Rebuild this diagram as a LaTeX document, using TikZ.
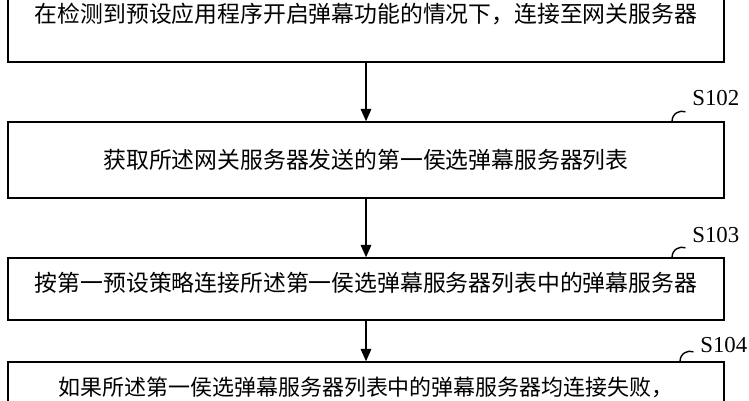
\documentclass[tikz,border=0pt]{standalone}
\usepackage{fontspec}
\setmainfont{Liberation Serif}
\newfontfamily\cjk{Noto Sans CJK SC}
\usetikzlibrary{arrows.meta}

\tikzset{
  stepbox/.style={draw, line width=0.9pt, minimum width=14.32cm, inner sep=0pt},
  flow/.style={-{Triangle[length=7pt,width=6pt]}, line width=0.8pt},
  hook/.style={line width=0.8pt},
  steplabel/.style={font=\fontsize{13pt}{15pt}\selectfont, inner sep=0pt, anchor=west}
}

\begin{document}
\begin{tikzpicture}[x=0.02cm, y=-0.02cm]
\useasboundingbox (0,0) rectangle (749,400);
\clip (0,0) rectangle (749,400);
\node[stepbox, minimum height=1.44cm] (s101) at (366,26) {};
\node[stepbox, minimum height=1.52cm] (s102) at (366,160) {};
\node[stepbox, minimum height=1.24cm] (s103) at (366,289) {};
\node[stepbox, minimum height=1.6cm] (s104) at (366,402) {};
% texts
\node[font=\cjk\fontsize{13pt}{16pt}\selectfont] at (366,14) {在检测到预设应用程序开启弹幕功能的情况下，连接至网关服务器};
\node[font=\cjk\fontsize{13pt}{16pt}\selectfont] at (366,160) {获取所述网关服务器发送的第一侯选弹幕服务器列表};
\node[font=\cjk\fontsize{13pt}{16pt}\selectfont] at (366,283) {按第一预设策略连接所述第一侯选弹幕服务器列表中的弹幕服务器};
\node[font=\cjk\fontsize{12.5pt}{16pt}\selectfont] at (366,387) {如果所述第一侯选弹幕服务器列表中的弹幕服务器均连接失败，};
% arrows
\draw[flow] (s101.south) -- (s102.north);
\draw[flow] (s102.south) -- (s103.north);
\draw[flow] (s103.south) -- (s104.north);
% labels
\foreach \n/\x in {s102/672, s103/672, s104/680}{
  \draw[hook] (\x,0 |- \n.north) arc[start angle=180, end angle=70, radius=0.2cm];
}
\node[steplabel] (l102) at (692,98) {S102};
\node[steplabel] (l103) at (692,235) {S103};
\node[steplabel] (l104) at (700,345) {S104};
\end{tikzpicture}
\end{document}
